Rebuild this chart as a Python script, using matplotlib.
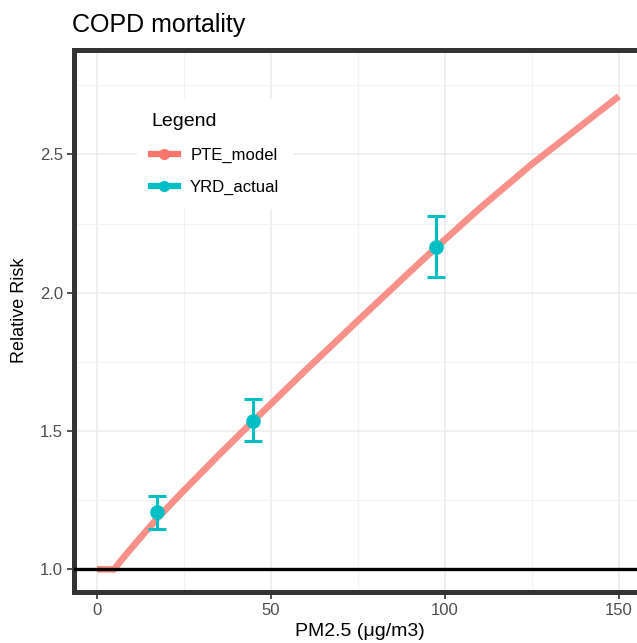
import matplotlib
matplotlib.use("Agg")
import matplotlib.pyplot as plt
from matplotlib.lines import Line2D
from matplotlib.ticker import MultipleLocator

plt.rcParams['font.family'] = ['Liberation Sans', 'DejaVu Sans']

# PTE model curve
pte_x = [0, 5, 7, 10, 17, 25, 35, 45, 60, 75, 90, 97, 110, 125, 150]
pte_rr = [1.0, 1.0, 1.033, 1.078, 1.180, 1.285, 1.413, 1.537, 1.72, 1.899,
          2.076, 2.158, 2.305, 2.465, 2.71]

# YRD actual estimates with error bars
yrd_x = [17.2, 44.7, 97.3]
yrd_rr = [1.206, 1.537, 2.166]
yrd_low = [1.145, 1.464, 2.058]
yrd_high = [1.266, 1.616, 2.278]

x_ticks = [0, 50, 100, 150]
y_ticks = [1.0, 1.5, 2.0, 2.5]

pte_col = '#F8766D'
yrd_col = '#00BFC4'

fig = plt.figure(figsize=(6.37, 6.43), dpi=100)
ax = fig.add_axes([74/637, 51.3/643, 571/637, 541.9/643])

ax.set_xlim(-6.6, 157.5)
ax.set_ylim(0.919, 2.878)
ax.set_xticks(x_ticks)
ax.set_yticks(y_ticks)
ax.xaxis.set_minor_locator(MultipleLocator(25))
ax.yaxis.set_minor_locator(MultipleLocator(0.25))
ax.grid(which='major', color='#EBEBEB', lw=1.1)
ax.grid(which='minor', color='#F2F2F2', lw=0.8)
ax.set_axisbelow(True)
ax.tick_params(which='minor', length=0)
ax.tick_params(which='major', length=5, width=1.2, color='#333333',
               labelsize=12, labelcolor='#4D4D4D', pad=3)
for s in ax.spines.values():
    s.set_linewidth(3.6)
    s.set_color('#333333')

ax.plot(pte_x, pte_rr, color=pte_col, alpha=0.8, lw=4.8,
        solid_capstyle='butt', solid_joinstyle='round', zorder=2)
ax.axhline(1.0, color='black', lw=2.4, zorder=3)

err = [[r - lo for r, lo in zip(yrd_rr, yrd_low)],
       [hi - r for r, hi in zip(yrd_rr, yrd_high)]]
ax.errorbar(yrd_x, yrd_rr, yerr=err, fmt='o', color=yrd_col, ms=9.5,
            elinewidth=2.2, capsize=6.5, capthick=2.2, zorder=4)

ax.set_xlabel('PM2.5 (μg/m3)', fontsize=14, labelpad=4)
fig.text(20/637, 1 - 310/643, 'Relative Risk', rotation=90, fontsize=13,
         ha='center', va='center')
fig.text(72/637, 1 - 32/643, 'COPD mortality', fontsize=18,
         ha='left', va='baseline')

handles = [
    Line2D([], [], color=pte_col, lw=4.5, marker='o', ms=7),
    Line2D([], [], color=yrd_col, lw=4.5, marker='o', ms=7),
]
leg = ax.legend(handles, ['PTE_model', 'YRD_actual'], title='Legend',
                loc='upper left', bbox_to_anchor=(0.110, 0.9095), frameon=True,
                fontsize=12, title_fontsize=14, handlelength=1.6,
                handletextpad=0.75, labelspacing=1.0, borderpad=0.85,
                borderaxespad=0)
leg._legend_box.align = 'left'
leg._legend_box.sep = 13
leg.get_frame().set_edgecolor('none')
leg.get_frame().set_facecolor('white')
leg.get_frame().set_alpha(1)
leg.get_frame().set_boxstyle('square', pad=0)

fig.savefig('out.png', dpi=100)
